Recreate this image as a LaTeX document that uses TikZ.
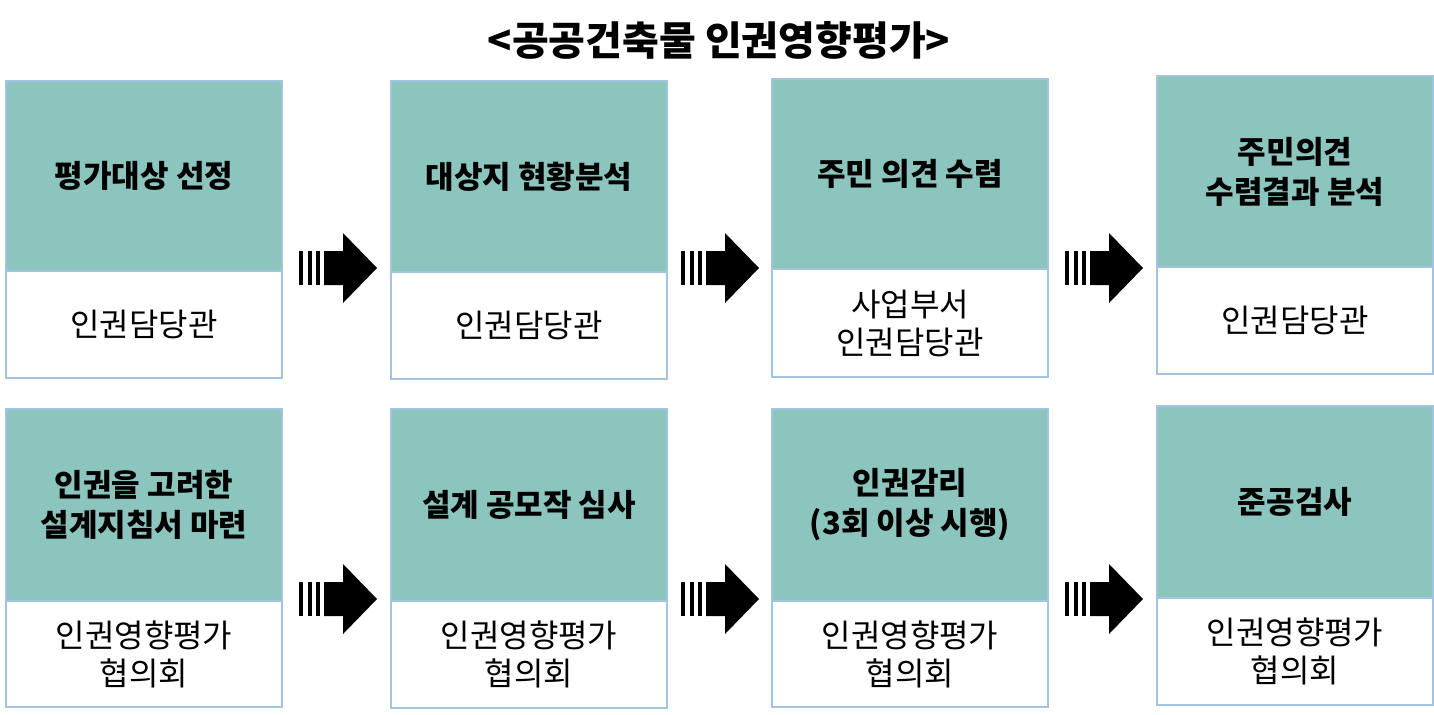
\documentclass[tikz,border=0pt]{standalone}
\usepackage{fontspec}
\setmainfont{Noto Sans CJK KR}
\usetikzlibrary{positioning}
\definecolor{tealbox}{HTML}{8CC4BE}
\definecolor{edgeblue}{HTML}{A3C4E0}
\tikzset{
  head/.style={draw=edgeblue, line width=1pt, fill=tealbox, minimum width=138pt, minimum height=#1, inner sep=0pt, align=center, font=\fontsize{15.5}{20}\selectfont\bfseries, anchor=north west},
  foot/.style={draw=edgeblue, line width=1pt, fill=white, minimum width=138pt, minimum height=#1, inner sep=0pt, align=center, font=\fontsize{16}{19}\selectfont, anchor=north west},
}
% striped block arrow at a point
\newcommand{\flowarrow}[1]{%
  \begin{scope}[shift={(#1)}]
    \fill (0,-17) rectangle (4,17);
    \fill (8.5,-17) rectangle (12.5,17);
    \fill (17,-17) rectangle (21,17);
    \fill (25,-17) -- (44,-17) -- (44,-35) -- (78,0) -- (44,35) -- (44,17) -- (25,17) -- cycle;
  \end{scope}}
\begin{document}
\begin{tikzpicture}[x=0.5pt, y=-0.5pt]
  \useasboundingbox (0,0) rectangle (1434,714);
  \node[font=\fontsize{20}{24}\selectfont\bfseries] (title) at (719,40) {<공공건축물 인권영향평가>};
  % Top row
  \node[head=95pt] (h1) at (5,80) {평가대상 선정};
  \node[foot=53.5pt] (f1) at (5,270) {인권담당관};
  \node[head=95.5pt] (h2) at (390,80) {대상지 현황분석};
  \node[foot=53.5pt] (f2) at (390,271) {인권담당관};
  \node[head=95pt] (h3) at (771,78) {주민 의견 수렴};
  \node[foot=54pt] (f3) at (771,268) {사업부서\\인권담당관};
  \node[head=95.5pt] (h4) at (1156,75) {주민의견\\수렴결과 분석};
  \node[foot=53.5pt] (f4) at (1156,266) {인권담당관};
  % Bottom row
  \node[head=96pt] (h5) at (5,408) {인권을 고려한\\설계지침서 마련};
  \node[foot=53pt] (f5) at (5,600) {인권영향평가\\협의회};
  \node[head=96pt] (h6) at (390,408) {설계 공모작 심사};
  \node[foot=53.5pt] (f6) at (390,600) {인권영향평가\\협의회};
  \node[head=96pt] (h7) at (771,408) {인권감리\\(3회 이상 시행)};
  \node[foot=53pt] (f7) at (771,600) {인권영향평가\\협의회};
  \node[head=96pt] (h8) at (1156,405) {준공검사};
  \node[foot=53.5pt] (f8) at (1156,597) {인권영향평가\\협의회};
  % Arrows
  \foreach \ax in {299,681,1065} {
    \flowarrow{\ax,268}
    \flowarrow{\ax,599}
  }
\end{tikzpicture}
\end{document}
